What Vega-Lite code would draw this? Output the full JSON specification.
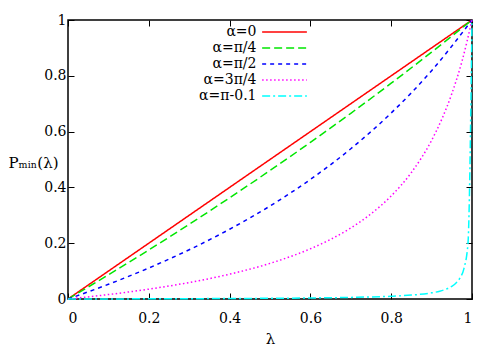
{
  "$schema": "https://vega.github.io/schema/vega-lite/v6.json",
  "width": 404,
  "height": 279,
  "autosize": {"type": "none"},
  "padding": {"left": 68, "top": 20, "right": 28, "bottom": 51},
  "background": "white",
  "config": {
    "view": {"stroke": "#000", "strokeWidth": 1.5},
    "font": "DejaVu Serif",
    "axis": {"grid": false, "domain": false, "tickColor": "#000", "tickWidth": 1, "labelFont": "DejaVu Serif", "titleFont": "DejaVu Serif", "labelFontSize": 14, "labelColor": "#000", "titleFontSize": 15, "titleColor": "#000", "titleFontWeight": "normal"},
    "legend": {"labelFont": "DejaVu Serif"}
  },
  "data": {"values": [
    {"lambda": 0, "P": 0, "series": "α=0"},
    {"lambda": 1, "P": 1, "series": "α=0"},
    {"lambda": 0, "P": 0, "series": "α=π/4"},
    {"lambda": 0.1, "P": 0.0866, "series": "α=π/4"},
    {"lambda": 0.2, "P": 0.1759, "series": "α=π/4"},
    {"lambda": 0.3, "P": 0.2678, "series": "α=π/4"},
    {"lambda": 0.4, "P": 0.3627, "series": "α=π/4"},
    {"lambda": 0.5, "P": 0.4605, "series": "α=π/4"},
    {"lambda": 0.6, "P": 0.5615, "series": "α=π/4"},
    {"lambda": 0.7, "P": 0.6657, "series": "α=π/4"},
    {"lambda": 0.8, "P": 0.7735, "series": "α=π/4"},
    {"lambda": 0.9, "P": 0.8848, "series": "α=π/4"},
    {"lambda": 1, "P": 1, "series": "α=π/4"},
    {"lambda": 0, "P": 0, "series": "α=π/2"},
    {"lambda": 0.1, "P": 0.0526, "series": "α=π/2"},
    {"lambda": 0.2, "P": 0.1111, "series": "α=π/2"},
    {"lambda": 0.3, "P": 0.1765, "series": "α=π/2"},
    {"lambda": 0.4, "P": 0.25, "series": "α=π/2"},
    {"lambda": 0.5, "P": 0.3333, "series": "α=π/2"},
    {"lambda": 0.6, "P": 0.4286, "series": "α=π/2"},
    {"lambda": 0.7, "P": 0.5385, "series": "α=π/2"},
    {"lambda": 0.8, "P": 0.6667, "series": "α=π/2"},
    {"lambda": 0.9, "P": 0.8182, "series": "α=π/2"},
    {"lambda": 1, "P": 1, "series": "α=π/2"},
    {"lambda": 0, "P": 0, "series": "α=3π/4"},
    {"lambda": 0.1, "P": 0.016, "series": "α=3π/4"},
    {"lambda": 0.2, "P": 0.0353, "series": "α=3π/4"},
    {"lambda": 0.3, "P": 0.0591, "series": "α=3π/4"},
    {"lambda": 0.4, "P": 0.089, "series": "α=3π/4"},
    {"lambda": 0.5, "P": 0.1277, "series": "α=3π/4"},
    {"lambda": 0.6, "P": 0.1801, "series": "α=3π/4"},
    {"lambda": 0.65, "P": 0.2138, "series": "α=3π/4"},
    {"lambda": 0.7, "P": 0.2547, "series": "α=3π/4"},
    {"lambda": 0.75, "P": 0.3052, "series": "α=3π/4"},
    {"lambda": 0.8, "P": 0.3694, "series": "α=3π/4"},
    {"lambda": 0.85, "P": 0.4535, "series": "α=3π/4"},
    {"lambda": 0.9, "P": 0.5686, "series": "α=3π/4"},
    {"lambda": 0.925, "P": 0.6437, "series": "α=3π/4"},
    {"lambda": 0.95, "P": 0.7356, "series": "α=3π/4"},
    {"lambda": 0.975, "P": 0.851, "series": "α=3π/4"},
    {"lambda": 1, "P": 1, "series": "α=3π/4"},
    {"lambda": 0, "P": 0, "series": "α=π-0.1"},
    {"lambda": 0.1, "P": 0.0003, "series": "α=π-0.1"},
    {"lambda": 0.2, "P": 0.0006, "series": "α=π-0.1"},
    {"lambda": 0.3, "P": 0.0011, "series": "α=π-0.1"},
    {"lambda": 0.4, "P": 0.0017, "series": "α=π-0.1"},
    {"lambda": 0.5, "P": 0.0025, "series": "α=π-0.1"},
    {"lambda": 0.6, "P": 0.0037, "series": "α=π-0.1"},
    {"lambda": 0.7, "P": 0.0058, "series": "α=π-0.1"},
    {"lambda": 0.8, "P": 0.0099, "series": "α=π-0.1"},
    {"lambda": 0.85, "P": 0.014, "series": "α=π-0.1"},
    {"lambda": 0.9, "P": 0.022, "series": "α=π-0.1"},
    {"lambda": 0.92, "P": 0.0279, "series": "α=π-0.1"},
    {"lambda": 0.94, "P": 0.0377, "series": "α=π-0.1"},
    {"lambda": 0.95, "P": 0.0453, "series": "α=π-0.1"},
    {"lambda": 0.96, "P": 0.0566, "series": "α=π-0.1"},
    {"lambda": 0.97, "P": 0.0747, "series": "α=π-0.1"},
    {"lambda": 0.98, "P": 0.109, "series": "α=π-0.1"},
    {"lambda": 0.99, "P": 0.1983, "series": "α=π-0.1"},
    {"lambda": 1, "P": 1, "series": "α=π-0.1"}
  ]},
  "layer": [
    {
      "mark": {"type": "line", "strokeWidth": 1.5, "interpolate": "monotone"},
      "encoding": {
        "x": {"field": "lambda", "type": "quantitative", "scale": {"domain": [0, 1], "nice": false},
              "axis": {"values": [0, 0.2, 0.4, 0.6, 0.8, 1], "format": "~g", "tickSize": -6, "labelPadding": 18, "title": "λ", "titlePadding": 6}},
        "y": {"field": "P", "type": "quantitative", "scale": {"domain": [0, 1], "nice": false},
              "axis": {"values": [0, 0.2, 0.4, 0.6, 0.8, 1], "format": "~g", "tickSize": -6, "labelPadding": 8, "title": "Pₘᵢₙ(λ)", "titleAngle": 0, "titleAlign": "right", "titleBaseline": "middle", "titleX": -10, "titleY": 142}},
        "color": {"field": "series", "type": "nominal",
                  "scale": {"domain": ["α=0", "α=π/4", "α=π/2", "α=3π/4", "α=π-0.1"], "range": ["#ff0000", "#00e600", "#0000ff", "#ff00ff", "#00ffff"]},
                  "legend": {"orient": "none", "legendX": 209.5, "legendY": 5, "title": null, "symbolType": "M-10,0H10", "symbolSize": 20, "symbolStrokeWidth": 1.5, "symbolFillColor": "transparent", "labelAlign": "right", "labelOffset": -35, "labelFont": "DejaVu Serif", "labelFontSize": 14, "labelColor": "#000", "rowPadding": 2}},
        "strokeDash": {"field": "series", "type": "nominal",
                  "scale": {"domain": ["α=0", "α=π/4", "α=π/2", "α=3π/4", "α=π-0.1"], "range": [[1, 0], [8, 4], [4, 4], [1.5, 2.5], [8, 3, 2, 3]]},
                  "legend": null},
        "order": {"field": "lambda", "type": "quantitative"}
      }
    },
    {
      "mark": {"type": "point", "opacity": 0},
      "encoding": {
        "x": {"field": "lambda", "type": "quantitative", "axis": {"orient": "top", "values": [0, 0.2, 0.4, 0.6, 0.8, 1], "labels": false, "tickSize": -6, "title": null}},
        "y": {"field": "P", "type": "quantitative", "axis": {"orient": "right", "values": [0, 0.2, 0.4, 0.6, 0.8, 1], "labels": false, "tickSize": -6, "title": null}}
      }
    }
  ],
  "resolve": {"axis": {"x": "independent", "y": "independent"}}
}
